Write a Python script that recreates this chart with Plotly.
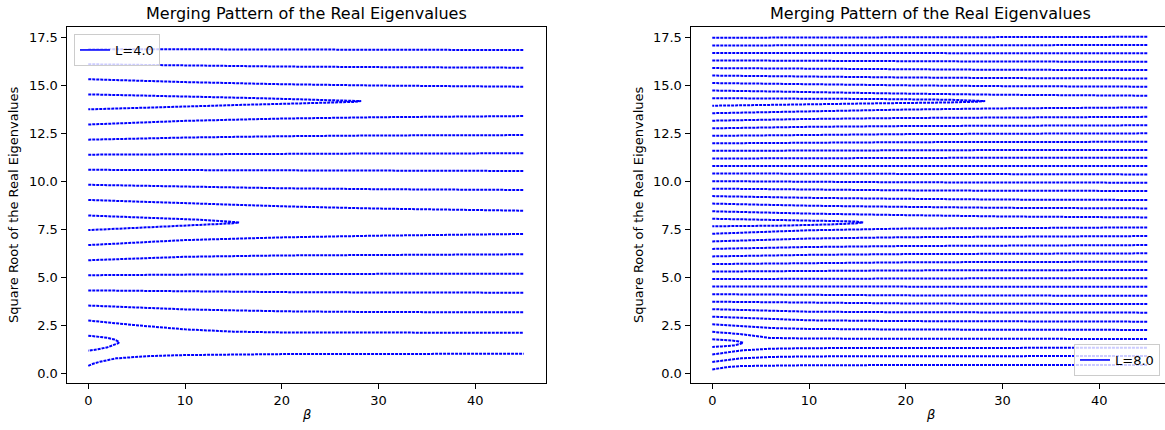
import plotly.graph_objects as go

FONT = "DejaVu Sans"
BLUE = "#0000ff"
TITLE = "Merging Pattern of the Real Eigenvalues"
YLABEL = "Square Root of the Real Eigenvalues"
XLABEL = "<i>β</i>"
X_TICKS = [0, 10, 20, 30, 40]
Y_TICKS = [0.0, 2.5, 5.0, 7.5, 10.0, 12.5, 15.0, 17.5]

# ---------------- L = 4.0 (left panel) ----------------
L4_BETA = [0, 10, 20, 30, 45]
L4_FLAT = [
    [3.53, 3.33, 3.23, 3.19, 3.18],
    [4.32, 4.27, 4.23, 4.21, 4.20],
    [5.11, 5.15, 5.17, 5.18, 5.19],
    [5.89, 6.07, 6.14, 6.17, 6.20],
    [6.68, 6.94, 7.08, 7.17, 7.26],
    [9.03, 8.85, 8.70, 8.58, 8.47],
    [9.82, 9.72, 9.64, 9.59, 9.55],
    [10.60, 10.58, 10.56, 10.55, 10.54],
    [11.39, 11.42, 11.44, 11.45, 11.46],
    [12.17, 12.28, 12.35, 12.39, 12.41],
    [12.96, 13.15, 13.27, 13.34, 13.40],
    [15.32, 15.17, 15.06, 14.99, 14.93],
    [16.10, 16.03, 15.98, 15.95, 15.92],
    [16.89, 16.87, 16.86, 16.85, 16.84],
]
L4_LOW_BETA = [0, 0.5, 1.2, 2.9, 6.4, 10, 20, 45]
L4_LOW = [0.39, 0.50, 0.60, 0.78, 0.90, 0.95, 1.00, 1.02]
L4_SECOND_BETA = [0, 4.6, 10, 15, 20, 45]
L4_SECOND = [2.75, 2.52, 2.29, 2.17, 2.13, 2.11]
L4_NOSE_A_BETA = [0, 1, 2, 2.7, 3.1, 3.2, 3.1, 2.7, 2, 1, 0]
L4_NOSE_A = [1.96, 1.92, 1.85, 1.76, 1.68, 1.63, 1.57, 1.48, 1.36, 1.25, 1.18]
L4_NOSE_B_BETA = [0, 4, 8, 11, 13.2, 14.8, 15.6, 14.8, 13.2, 11, 8, 4, 0]
L4_NOSE_B = [8.22, 8.15, 8.07, 8.01, 7.95, 7.91, 7.86, 7.81, 7.77, 7.71, 7.63, 7.55, 7.46]
L4_NOSE_C_BETA = [0, 6, 11.5, 17, 21.9, 25.5, 27.5, 28.2, 27.5, 25.5, 21.9, 17, 11.5, 6, 0]
L4_NOSE_C = [14.53, 14.47, 14.41, 14.34, 14.27, 14.23, 14.20, 14.18, 14.14, 14.10,
             14.06, 14.00, 13.92, 13.85, 13.75]

# ---------------- L = 8.0 (right panel) ----------------
L8_BETA = [0, 10, 20, 30, 45]
L8_FLAT = [
    [3.73, 3.67, 3.64, 3.62, 3.61],
    [4.12, 4.08, 4.06, 4.05, 4.04],
    [4.52, 4.51, 4.51, 4.51, 4.51],
    [4.91, 4.93, 4.94, 4.95, 4.95],
    [5.30, 5.34, 5.36, 5.37, 5.38],
    [5.69, 5.75, 5.78, 5.80, 5.81],
    [6.09, 6.17, 6.21, 6.23, 6.25],
    [6.48, 6.58, 6.63, 6.66, 6.68],
    [6.87, 7.02, 7.09, 7.12, 7.15],
    [7.27, 7.45, 7.54, 7.57, 7.60],
    [8.44, 8.32, 8.24, 8.17, 8.12],
    [8.84, 8.73, 8.67, 8.62, 8.59],
    [9.23, 9.14, 9.09, 9.05, 9.03],
    [9.62, 9.56, 9.53, 9.51, 9.50],
    [10.01, 9.97, 9.95, 9.94, 9.93],
    [10.41, 10.39, 10.38, 10.37, 10.36],
    [10.80, 10.80, 10.80, 10.80, 10.80],
    [11.19, 11.21, 11.22, 11.23, 11.23],
    [11.59, 11.61, 11.62, 11.63, 11.63],
    [11.98, 12.02, 12.04, 12.05, 12.06],
    [12.37, 12.43, 12.46, 12.48, 12.50],
    [12.76, 12.84, 12.88, 12.90, 12.92],
    [13.16, 13.25, 13.30, 13.33, 13.36],
    [13.55, 13.66, 13.74, 13.80, 13.85],
    [14.73, 14.64, 14.57, 14.51, 14.46],
    [15.12, 15.05, 15.00, 14.96, 14.93],
    [15.51, 15.45, 15.41, 15.38, 15.36],
    [15.90, 15.86, 15.83, 15.81, 15.80],
    [16.30, 16.27, 16.25, 16.24, 16.23],
    [16.69, 16.68, 16.68, 16.67, 16.67],
    [17.08, 17.09, 17.09, 17.10, 17.10],
    [17.48, 17.50, 17.51, 17.52, 17.53],
]
L8_LOW_BETA = [0, 1.5, 3, 6, 10, 20, 45]
L8_LOW = [
    [0.20, 0.32, 0.38, 0.41, 0.42, 0.43, 0.43],
    [0.59, 0.70, 0.78, 0.85, 0.88, 0.89, 0.90],
    [0.98, 1.09, 1.19, 1.28, 1.31, 1.32, 1.33],
    [2.16, 2.10, 2.04, 1.84, 1.81, 1.80, 1.79],
    [2.55, 2.51, 2.46, 2.36, 2.31, 2.28, 2.26],
    [2.95, 2.92, 2.88, 2.81, 2.76, 2.72, 2.69],
    [3.34, 3.32, 3.30, 3.25, 3.21, 3.18, 3.16],
]
L8_NOSE_A_BETA = [0, 1, 2.2, 2.8, 3.2, 2.8, 2.2, 1, 0]
L8_NOSE_A = [1.77, 1.75, 1.70, 1.65, 1.59, 1.52, 1.45, 1.40, 1.37]
L8_NOSE_B_BETA = [0, 7, 12.5, 14.8, 15.6, 14.8, 12.5, 7, 0]
L8_NOSE_B = [8.05, 8.00, 7.95, 7.91, 7.86, 7.81, 7.76, 7.69, 7.66]
L8_NOSE_C_BETA = [0, 9, 16.6, 24.6, 27.5, 28.2, 27.5, 24.6, 16.6, 9, 0]
L8_NOSE_C = [14.33, 14.32, 14.29, 14.25, 14.21, 14.18, 14.15, 14.11, 14.06, 14.01, 13.94]


def join(curves):
    xs, ys = [], []
    for bx, by in curves:
        xs += list(bx) + [None]
        ys += list(by) + [None]
    return xs, ys


left_curves = ([(L4_BETA, row) for row in L4_FLAT]
               + [(L4_LOW_BETA, L4_LOW), (L4_SECOND_BETA, L4_SECOND),
                  (L4_NOSE_A_BETA, L4_NOSE_A), (L4_NOSE_B_BETA, L4_NOSE_B),
                  (L4_NOSE_C_BETA, L4_NOSE_C)])
right_curves = ([(L8_BETA, row) for row in L8_FLAT]
                + [(L8_LOW_BETA, row) for row in L8_LOW]
                + [(L8_NOSE_A_BETA, L8_NOSE_A), (L8_NOSE_B_BETA, L8_NOSE_B),
                   (L8_NOSE_C_BETA, L8_NOSE_C)])

fig = go.Figure()
line_style = dict(color=BLUE, width=2, dash="3px,1px")

lx, ly = join(left_curves)
fig.add_trace(go.Scatter(x=lx, y=ly, mode="lines", line=line_style,
                         showlegend=False, xaxis="x", yaxis="y", hoverinfo="skip"))
fig.add_trace(go.Scatter(x=[None], y=[None], mode="lines", name="L=4.0",
                         line=dict(color=BLUE, width=1.6), xaxis="x", yaxis="y",
                         legend="legend"))
rx, ry = join(right_curves)
fig.add_trace(go.Scatter(x=rx, y=ry, mode="lines", line=line_style,
                         showlegend=False, xaxis="x2", yaxis="y2", hoverinfo="skip"))
fig.add_trace(go.Scatter(x=[None], y=[None], mode="lines", name="L=8.0",
                         line=dict(color=BLUE, width=1.6), xaxis="x2", yaxis="y2",
                         legend="legend2"))

W, H = 1165, 430
L_X0, L_X1 = 66.5, 545.5
R_X0 = 690.5
PX_PER_UNIT = (L_X1 - L_X0) / 49.5
R_XMAX = -2.25 + (W - R_X0) / PX_PER_UNIT
Y_TOP, Y_BOT = 27, 383
YMIN, YMAX = -0.505, 18.04
TICK_SIZE = 13

axis_common = dict(showline=True, linecolor="black", linewidth=1, ticks="outside",
                   ticklen=5, tickwidth=1, tickcolor="black", showgrid=False,
                   zeroline=False, tickfont=dict(family=FONT, size=TICK_SIZE, color="black"))

fig.update_layout(
    width=W, height=H, margin=dict(l=0, r=0, t=0, b=0),
    paper_bgcolor="white", plot_bgcolor="white",
    font=dict(family=FONT, size=TICK_SIZE, color="black"),
    xaxis=dict(domain=[L_X0 / W, L_X1 / W], range=[-2.25, 47.25], anchor="y",
               tickvals=X_TICKS, mirror=True, **axis_common),
    yaxis=dict(domain=[1 - Y_BOT / H, 1 - Y_TOP / H], range=[YMIN, YMAX], anchor="x",
               tickvals=Y_TICKS, tickformat=".1f", mirror=True, **axis_common),
    xaxis2=dict(domain=[R_X0 / W, 1.0], range=[-2.25, R_XMAX], anchor="y2",
                tickvals=X_TICKS, mirror=True, **axis_common),
    yaxis2=dict(domain=[1 - Y_BOT / H, 1 - Y_TOP / H], range=[YMIN, YMAX], anchor="x2",
                tickvals=Y_TICKS, tickformat=".1f", mirror=False, **axis_common),
    legend=dict(x=74 / W, y=1 - 34 / H, xanchor="left", yanchor="top",
                bgcolor="rgba(255,255,255,0.8)", bordercolor="#cccccc", borderwidth=1,
                font=dict(family=FONT, size=TICK_SIZE, color="black")),
    legend2=dict(x=1160 / W, y=1 - 376 / H, xanchor="right", yanchor="bottom",
                 bgcolor="rgba(255,255,255,0.8)", bordercolor="#cccccc", borderwidth=1,
                 font=dict(family=FONT, size=TICK_SIZE, color="black")),
)

l_center = (L_X0 + L_X1) / 2 / W
r_center = (R_X0 + R_X0 + 49.5 * PX_PER_UNIT) / 2 / W
for cx, ylab_x in [(l_center, 14), (r_center, 639)]:
    fig.add_annotation(text=TITLE, x=cx, y=1 - 13.5 / H, xref="paper", yref="paper",
                       showarrow=False, xanchor="center", yanchor="middle",
                       font=dict(family=FONT, size=16, color="black"))
    fig.add_annotation(text=XLABEL, x=cx, y=1 - 414 / H, xref="paper", yref="paper",
                       showarrow=False, xanchor="center", yanchor="middle",
                       font=dict(family=FONT, size=TICK_SIZE, color="black"))
    fig.add_annotation(text=YLABEL, x=ylab_x / W, y=1 - 205 / H, xref="paper",
                       yref="paper", showarrow=False, textangle=-90,
                       xanchor="center", yanchor="middle",
                       font=dict(family=FONT, size=TICK_SIZE, color="black"))

fig.write_html("out.html", config={"displayModeBar": False},
               post_script="document.body.style.margin='0px';"
                           "document.body.style.overflow='hidden';")
